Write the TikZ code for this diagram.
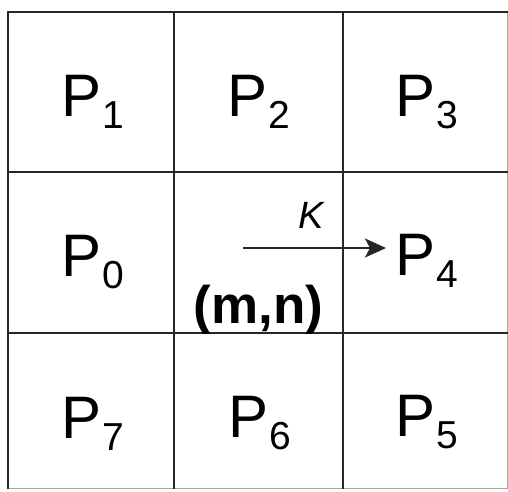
\documentclass[tikz,border=0pt]{standalone}
\usepackage{fontspec}
\setmainfont{Liberation Sans}
\usetikzlibrary{arrows.meta}
\tikzset{
  gridline/.style={line width=2pt, draw=black!85},
  edgeline/.style={line width=1pt, draw=black!35},
  plabel/.style={inner sep=0pt, anchor=base west},
}
\newcommand{\plab}[1]{{\fontsize{60}{60}\selectfont P}\kern1.5pt\raisebox{-12pt}{\fontsize{39}{39}\selectfont #1}}
\begin{document}
\begin{tikzpicture}[x=1pt,y=-1pt]
\useasboundingbox[fill=white] (0,0) rectangle (508,491);
% outer faint edges
\draw[edgeline] (507,12) -- (507,488) -- (8,488);
% grid
\draw[gridline] (8,489) -- (8,12) -- (508,12);
\draw[gridline] (174,12) -- (174,489);
\draw[gridline] (342.5,12) -- (342.5,489);
\draw[gridline] (8,171.5) -- (508,171.5);
\draw[gridline] (8,333) -- (508,333);
% labels
\node[plabel] (p1) at (61,116) {\plab{1}};
\node[plabel] (p2) at (227,116) {\plab{2}};
\node[plabel] (p3) at (395,116) {\plab{3}};
\node[plabel] (p0) at (61,276) {\plab{0}};
\node[plabel] (p4) at (395,275) {\plab{4}};
\node[plabel] (p7) at (61,438) {\plab{7}};
\node[plabel] (p6) at (228,437) {\plab{6}};
\node[plabel] (p5) at (395,436) {\plab{5}};
\node[inner sep=0pt, anchor=base] (k) at (311,228) {\fontsize{38}{38}\selectfont\itshape K};
\node[inner sep=0pt, anchor=base] (mn) at (258.5,323) {\fontsize{53}{53}\selectfont\bfseries (m,n)};
\coordinate (as) at (243,248);
\coordinate (ae) at (386,248);
\draw[line width=1.8pt, black!85, -{Stealth[length=21pt,width=19pt,inset=5pt]}] (as) -- (ae);
\end{tikzpicture}
\end{document}
